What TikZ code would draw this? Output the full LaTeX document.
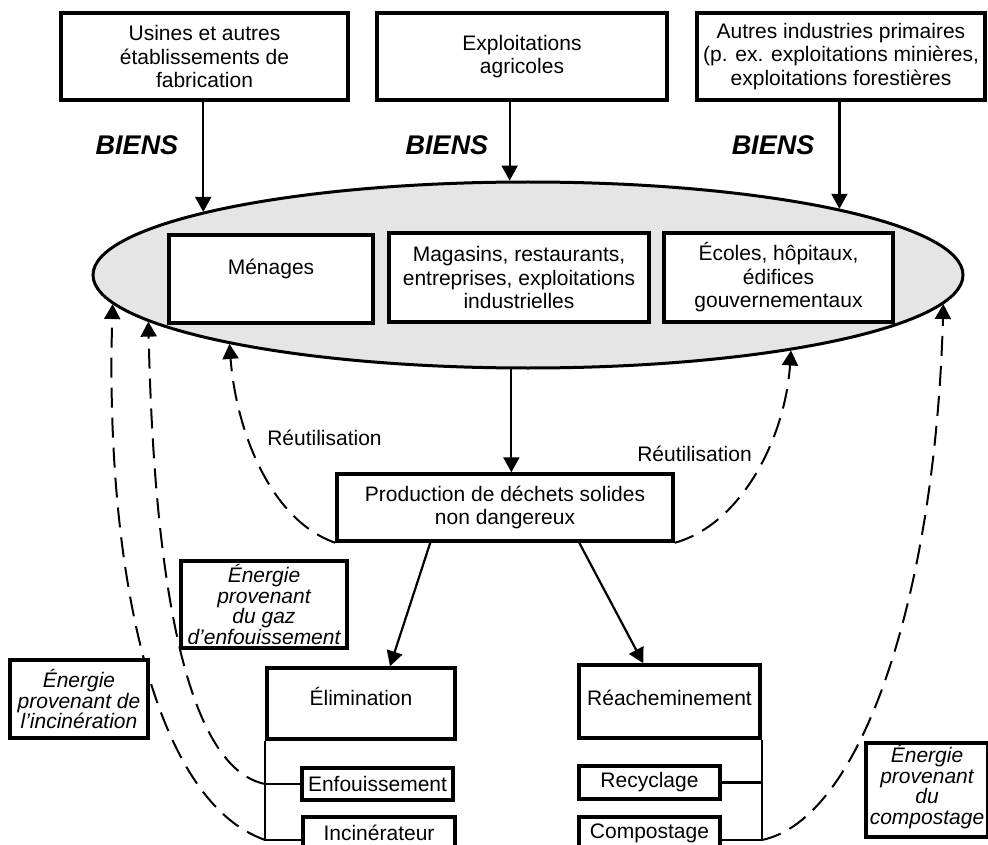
\documentclass[tikz,border=0pt]{standalone}
\usepackage{fontspec}
\setmainfont{Liberation Sans}
\usetikzlibrary{shapes.geometric,arrows.meta,calc}
\pgfdeclarelayer{bg}
\pgfsetlayers{bg,main}
\newcommand\txtfnt{\fontsize{21}{23.5}\selectfont}
\newcommand\enfnt{\fontsize{21}{20.5}\selectfont\itshape}
\newcommand\bienfnt{\fontsize{27}{30}\selectfont\bfseries\itshape}
\begin{document}
\begin{tikzpicture}[x=1pt,y=-1pt,
  tbox/.style={draw, line width=3.5pt, fill=white, align=center, inner sep=0pt, font=\txtfnt},
  ebox/.style={tbox, font=\enfnt},
  lbl/.style={inner sep=0pt, font=\txtfnt},
  biens/.style={inner sep=0pt, font=\bienfnt},
  conn/.style={line width=2.2pt},
  arr/.style={conn, -{Triangle[length=15pt,width=16pt]}},
  dsh/.style={line width=2pt, dash pattern=on 20pt off 10pt, -{Triangle[length=15pt,width=16pt]}}]
\begin{pgfonlayer}{bg}
\fill[white] (0,0) rectangle (988,845);
\end{pgfonlayer}
\clip (0,0) rectangle (988,845);

% sources
\node[tbox, minimum width=287pt, minimum height=87pt] (b1) at (204.5,56.5) {Usines et autres\\établissements de\\fabrication};
\node[tbox, minimum width=290pt, minimum height=87pt] (b2) at (522,56.5) {Exploitations\\agricoles};
\node[tbox, minimum width=288pt, minimum height=87pt] (b3) at (841,56.5) {Autres industries primaires\\(p. ex. exploitations minières,\\exploitations forestières};

\node[biens] (g1) at (137,145) {BIENS};
\node[biens] (g2) at (447,145) {BIENS};
\node[biens] (g3) at (773,145) {BIENS};

% ellipse of generators
\node[ellipse, draw, line width=3pt, fill=gray!20, minimum width=870pt, minimum height=186pt, inner sep=0pt] (ell) at (528,275) {};
\node[tbox, minimum width=204pt, minimum height=88pt] (men) at (271,279) {Ménages\\\mbox{}};
\node[tbox, minimum width=260pt, minimum height=89pt] (mag) at (519,277.5) {Magasins, restaurants,\\entreprises, exploitations\\industrielles};
\node[tbox, minimum width=229pt, minimum height=89pt] (eco) at (778.5,277.5) {Écoles, hôpitaux,\\édifices\\gouvernementaux};

% waste production
\node[tbox, minimum width=336pt, minimum height=67pt] (prod) at (505,507.5) {Production de déchets solides\\non dangereux};
\node[lbl] (r1) at (324.5,437.5) {Réutilisation};
\node[lbl] (r2) at (694.5,454) {Réutilisation};

% disposal / diversion
\node[tbox, minimum width=188pt, minimum height=71pt] (elim) at (361,703.5) {Élimination\\[-10pt]\mbox{}};
\node[tbox, minimum width=181pt, minimum height=73pt] (reach) at (669.5,701.5) {Réacheminement\\[-17pt]\mbox{}};
\node[tbox, minimum width=151pt, minimum height=32pt] (enf) at (377.5,784) {Enfouissement};
\node[tbox, minimum width=152pt, minimum height=32pt] (incin) at (379,833) {Incinérateur};
\node[tbox, minimum width=141pt, minimum height=33pt] (recy) at (649.5,782.5) {Recyclage};
\node[tbox, minimum width=141pt, minimum height=32pt] (comp) at (649.5,833) {Compostage};

% energy boxes
\node[ebox, minimum width=166pt, minimum height=87pt] (eg) at (264,604.5) {Énergie\\provenant\\du gaz\\d’enfouissement};
\node[ebox, minimum width=138pt, minimum height=78pt] (ei) at (79,699) {Énergie\\provenant de\\l’incinération};
\node[ebox, minimum width=122pt, minimum height=94pt] (ec) at (927,790) {Énergie\\provenant\\du\\compostage\\[-9pt]\mbox{}};

% goods arrows
\draw[arr] (b1.south -| ell.169) -- (ell.169);
\draw[arr] (b2.south -| ell.101) -- (ell.101);
\draw[arr] (b3.south -| ell.12) -- (ell.12);

% waste
\draw[arr] (ell.260) -- (ell.260 |- prod.north);
\draw[arr] ($(prod.south west)+(95,0)$) -- ($(elim.north)+(29,0)$);
\draw[arr] ($(prod.south west)+(244,0)$) -- ($(reach.north west)+(66,0)$);

% tree lines
\coordinate (iw) at ($(incin.west)+(0,7)$);
\coordinate (jI) at (elim.south west |- iw);
\coordinate (jE) at (elim.south west |- enf.west);
\draw[conn] (elim.south west) -- (jI) -- (iw);
\draw[conn] (jE) -- (enf.west);
\coordinate (cw) at ($(comp.east)+(0,7)$);
\coordinate (jC) at (reach.south east |- cw);
\coordinate (jR) at (reach.south east |- recy.east);
\draw[conn] (reach.south east) -- (jC) -- (cw);
\draw[conn] (jR) -- (recy.east);

% dashed return flows
\begin{pgfonlayer}{bg}
\draw[dsh] (jI) .. controls (150,800) and (105,560) .. (ell.184);
\draw[dsh] (jE) .. controls (195,770) and (155,620) .. (ell.187);
\draw[dsh] (jC) .. controls (860,820) and (935,600) .. (ell.356);
\draw[dsh] (prod.south west) .. controls (270,520) and (236,430) .. (ell.193);
\draw[dsh] (prod.south east) .. controls (740,525) and (785,440) .. (ell.344);
\end{pgfonlayer}
\end{tikzpicture}
\end{document}
